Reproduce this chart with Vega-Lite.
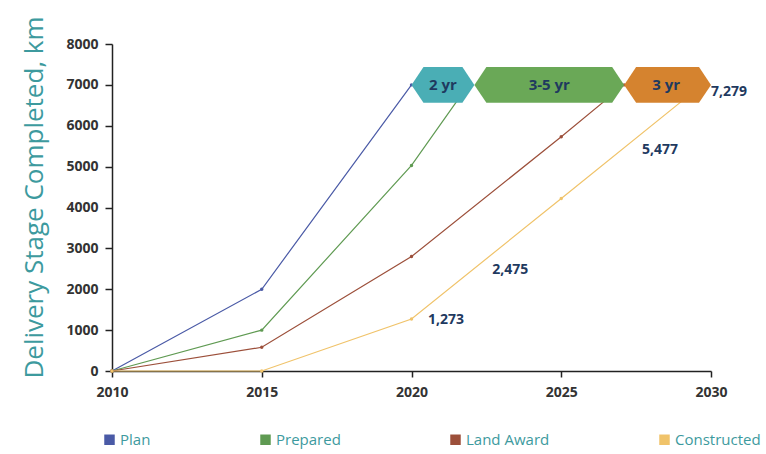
{
  "$schema": "https://vega.github.io/schema/vega-lite/v6.json",
  "width": 599,
  "height": 327,
  "autosize": {"type": "none"},
  "padding": {"left": 112, "top": 44, "right": 55, "bottom": 83},
  "background": "white",
  "config": {
    "view": {"stroke": null},
    "font": "Open Sans",
    "axis": {"grid": false, "domainColor": "#222", "domainWidth": 1.5, "tickColor": "#222", "tickWidth": 1.5,
      "labelFont": "Open Sans", "labelFontWeight": "bold", "labelFontSize": 14, "labelColor": "#333", "labelFlush": false}
  },
  "datasets": {
    "lines": [
      {"stage": "Plan", "year": 2010, "km": 0},
      {"stage": "Plan", "year": 2015, "km": 2000},
      {"stage": "Plan", "year": 2020, "km": 7000},
      {"stage": "Prepared", "year": 2010, "km": 0},
      {"stage": "Prepared", "year": 2015, "km": 1000},
      {"stage": "Prepared", "year": 2020, "km": 5030},
      {"stage": "Prepared", "year": 2021.9, "km": 7000},
      {"stage": "Land Award", "year": 2010, "km": 0},
      {"stage": "Land Award", "year": 2015, "km": 580},
      {"stage": "Land Award", "year": 2020, "km": 2800},
      {"stage": "Land Award", "year": 2025, "km": 5730},
      {"stage": "Land Award", "year": 2027.1, "km": 7000},
      {"stage": "Constructed", "year": 2010, "km": 0},
      {"stage": "Constructed", "year": 2015, "km": 0},
      {"stage": "Constructed", "year": 2020, "km": 1273},
      {"stage": "Constructed", "year": 2025, "km": 4220},
      {"stage": "Constructed", "year": 2029.7, "km": 7000}
    ],
    "hex": [
      {"phase": "2 yr", "year": 2020.0, "top": 7000, "bottom": 7000},
      {"phase": "2 yr", "year": 2020.4, "top": 7440, "bottom": 6560},
      {"phase": "2 yr", "year": 2021.7, "top": 7440, "bottom": 6560},
      {"phase": "2 yr", "year": 2022.1, "top": 7000, "bottom": 7000},
      {"phase": "3-5 yr", "year": 2022.1, "top": 7000, "bottom": 7000},
      {"phase": "3-5 yr", "year": 2022.5, "top": 7440, "bottom": 6560},
      {"phase": "3-5 yr", "year": 2026.7, "top": 7440, "bottom": 6560},
      {"phase": "3-5 yr", "year": 2027.1, "top": 7000, "bottom": 7000},
      {"phase": "3 yr", "year": 2027.1, "top": 7000, "bottom": 7000},
      {"phase": "3 yr", "year": 2027.5, "top": 7440, "bottom": 6560},
      {"phase": "3 yr", "year": 2029.6, "top": 7440, "bottom": 6560},
      {"phase": "3 yr", "year": 2030.0, "top": 7000, "bottom": 7000}
    ],
    "hexlabels": [
      {"label": "2 yr", "year": 2021.05, "km": 7000},
      {"label": "3-5 yr", "year": 2024.6, "km": 7000},
      {"label": "3 yr", "year": 2028.5, "km": 7000}
    ],
    "values": [
      {"label": "1,273", "year": 2020.55, "km": 1250},
      {"label": "2,475", "year": 2022.7, "km": 2470},
      {"label": "5,477", "year": 2027.7, "km": 5400},
      {"label": "7,279", "year": 2030.0, "km": 6820}
    ]
  },
  "layer": [
    {
      "data": {"name": "lines"},
      "mark": {"type": "line", "strokeWidth": 1.2, "point": {"filled": true, "size": 12}},
      "encoding": {
        "x": {"field": "year", "type": "quantitative", "scale": {"domain": [2010, 2030], "nice": false},
          "axis": {"title": null, "values": [2010, 2015, 2020, 2025, 2030], "format": "d", "tickSize": 6, "labelPadding": 8}},
        "y": {"field": "km", "type": "quantitative", "scale": {"domain": [0, 8000], "nice": false},
          "axis": {"title": "Delivery Stage Completed, km", "values": [0, 1000, 2000, 3000, 4000, 5000, 6000, 7000, 8000],
            "format": "d", "tickSize": 7, "labelPadding": 7, "titleFont": "Open Sans", "titleFontSize": 26, "titleFontWeight": "normal",
            "titleColor": "#3d9a9e", "titlePadding": 18, "titleY": 153}},
        "color": {"field": "stage", "type": "nominal",
          "scale": {"domain": ["Plan", "Prepared", "Land Award", "Constructed"], "range": ["#4a5aa6", "#5f9a52", "#9c4f3a", "#f0c36a"]},
          "legend": {"title": null, "orient": "none", "direction": "horizontal", "legendX": -10, "legendY": 388,
            "symbolType": "square", "symbolSize": 110, "symbolStrokeWidth": 0, "labelFont": "Open Sans", "labelFontSize": 15,
            "labelColor": "#3d9a9e", "columnPadding": 107, "labelOffset": 3, "padding": 0}}
      }
    },
    {
      "data": {"name": "hex"},
      "mark": {"type": "area", "opacity": 1},
      "encoding": {
        "x": {"field": "year", "type": "quantitative"},
        "y": {"field": "top", "type": "quantitative", "stack": null},
        "y2": {"field": "bottom"},
        "color": {"field": "phase", "type": "nominal",
          "scale": {"domain": ["2 yr", "3-5 yr", "3 yr"], "range": ["#4aaeb5", "#6aa857", "#d5832f"]}, "legend": null}
      }
    },
    {
      "data": {"name": "hexlabels"},
      "mark": {"type": "text", "font": "Open Sans", "fontWeight": "bold", "fontSize": 15, "color": "#1f3a5f"},
      "encoding": {
        "x": {"field": "year", "type": "quantitative"},
        "y": {"field": "km", "type": "quantitative"},
        "text": {"field": "label"}
      }
    },
    {
      "data": {"name": "values"},
      "mark": {"type": "text", "font": "Open Sans", "fontWeight": "bold", "fontSize": 14, "color": "#1f3a5f", "align": "left"},
      "encoding": {
        "x": {"field": "year", "type": "quantitative"},
        "y": {"field": "km", "type": "quantitative"},
        "text": {"field": "label"}
      }
    }
  ],
  "resolve": {"scale": {"color": "independent"}}
}
